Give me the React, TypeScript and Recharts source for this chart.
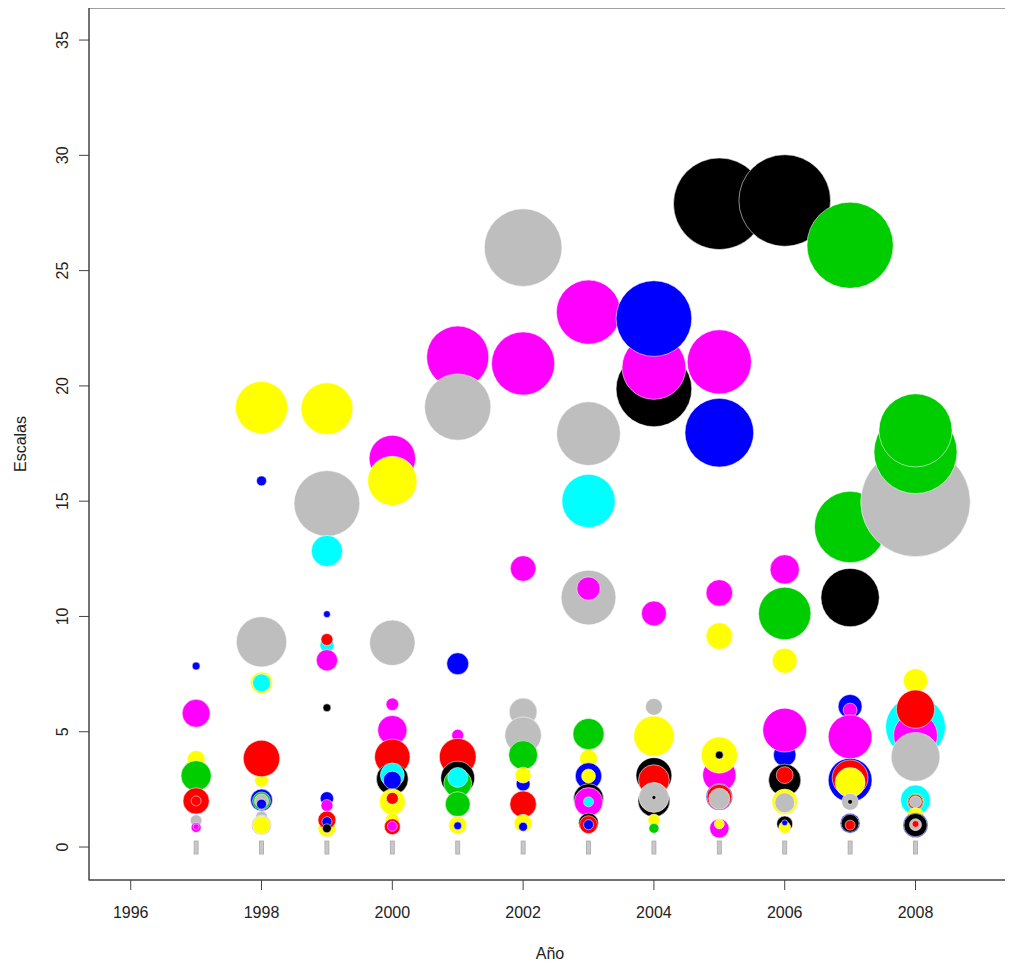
import React from 'react';
import { ReferenceArea, Scatter, ScatterChart, XAxis, YAxis, ZAxis } from 'recharts';

// paleta por defecto de R: negro, rojo, verde, azul, cian, magenta, amarillo, gris
const colores = ['#000000', '#FF0000', '#00CD00', '#0000FF', '#00FFFF', '#FF00FF', '#FFFF00', '#BEBEBE'];

const anios = [1997, 1998, 1999, 2000, 2001, 2002, 2003, 2004, 2005, 2006, 2007, 2008];
const ticksAnio = [1996, 1998, 2000, 2002, 2004, 2006, 2008];
const ticksEscala = [0, 5, 10, 15, 20, 25, 30, 35];

// [escala, n, grupo] en el orden en que se dibujan
const e1997 = [
  [5.8, 19.6, 5], [7.85, 1.6, 3], [3.8, 8.1, 6], [3.09, 23.1, 2], [2.0, 17.4, 1],
  [2.0, 2.5, 1], [1.15, 3.4, 7], [0.85, 2.5, 5], [0.88, 0.9, 5],
];
const e1998 = [
  [19.06, 68.6, 6], [15.88, 2.5, 3], [8.9, 64, 7], [7.12, 12.1, 6], [7.12, 8.1, 4],
  [2.9, 4.9, 6], [3.84, 33.6, 1], [2.04, 12.1, 3], [2.0, 8.1, 2], [2.0, 4.9, 7],
  [1.86, 2.5, 3], [1.3, 3.6, 7], [0.95, 10, 7], [0.95, 8.1, 6],
];
const e1999 = [
  [19.01, 67.6, 6], [14.9, 108.9, 7], [12.84, 24.6, 4], [10.1, 1.2, 3], [8.75, 4.9, 4],
  [9.0, 3.6, 1], [8.1, 11.4, 5], [6.04, 1.6, 0], [2.11, 4.5, 3], [1.8, 3.6, 5],
  [0.82, 8.1, 6], [1.17, 8.1, 1], [1.1, 2.5, 3], [0.81, 2.0, 0],
];
const e2000 = [
  [16.85, 54.3, 5], [15.88, 61, 6], [8.86, 52, 7], [6.19, 4, 5], [5.07, 21.6, 5],
  [3.91, 31.7, 1], [2.95, 25.6, 0], [3.12, 14.4, 4], [2.9, 8.1, 3], [1.96, 16.9, 6],
  [2.11, 3.6, 1], [1.17, 4.9, 6], [0.88, 6.4, 1], [0.9, 2.5, 5],
];
const e2001 = [
  [21.25, 97.3, 5], [19.08, 110.9, 7], [7.95, 12.1, 3], [4.85, 3.6, 5], [3.91, 34.2, 1],
  [3.25, 10, 6], [2.99, 28.9, 0], [2.76, 19.6, 2], [3.02, 10, 4], [1.86, 15.6, 2],
  [0.95, 8.1, 6], [0.92, 1.6, 3],
];
const e2002 = [
  [26.0, 152, 7], [20.97, 100.5, 5], [12.08, 16.4, 5], [5.86, 19.6, 7], [4.85, 33.5, 7],
  [3.99, 21, 2], [2.73, 4.9, 3], [3.12, 6.4, 6], [1.86, 17.7, 1], [1.03, 8.1, 6],
  [0.88, 2, 3],
];
const e2003 = [
  [23.2, 103.7, 5], [17.93, 102.4, 7], [15.01, 71.3, 4], [10.82, 75.6, 7], [11.21, 13.7, 5],
  [4.9, 24.6, 2], [3.84, 8.1, 6], [3.08, 17.7, 3], [3.08, 4.9, 6], [2.1, 22.5, 0],
  [1.96, 20.4, 5], [1.96, 2.5, 4], [1.04, 10, 0], [0.97, 8.1, 1], [0.97, 2.5, 3],
];
const e2004 = [
  [19.87, 144.4, 0], [20.8, 102.4, 5], [22.92, 144.4, 3], [10.13, 15.6, 5], [6.08, 7.2, 7],
  [4.81, 41.2, 6], [3.1, 32.4, 0], [2.9, 24, 1], [2.0, 25.6, 0], [2.15, 22.5, 7],
  [2.15, 0.4, 0], [1.17, 3.6, 6], [0.81, 2.5, 2],
];
const e2005 = [
  [27.9, 211.6, 0], [21.04, 103.7, 5], [17.97, 119, 3], [11.02, 17.7, 5], [9.15, 17.7, 6],
  [3.12, 27.9, 5], [3.99, 33.1, 6], [3.99, 1.6, 0], [2.18, 17.7, 3], [2.18, 15.6, 1],
  [2.1, 11, 7], [0.81, 9.4, 5], [1.0, 2.5, 6],
];
const e2006 = [
  [28.04, 211.6, 0], [12.04, 21.6, 5], [10.13, 69.2, 2], [8.08, 15.6, 6], [3.99, 12.8, 3],
  [5.07, 48.4, 5], [2.9, 26.2, 0], [3.12, 7.2, 1], [1.96, 16.4, 6], [1.92, 10, 7],
  [1.0, 6.4, 0], [0.85, 3.6, 6], [1.05, 0.9, 3],
];
const e2007 = [
  [26.1, 187.5, 2], [13.88, 128.2, 2], [10.82, 85.8, 0], [6.1, 14.4, 3], [5.94, 4.9, 5],
  [4.78, 48.4, 5], [2.9, 48.4, 3], [3.0, 32.4, 1], [2.8, 22.5, 6], [1.96, 7.2, 7],
  [1.96, 0.6, 0], [1.03, 10, 3], [1.03, 8.1, 0], [0.95, 2.5, 1],
];
const e2008 = [
  [14.97, 302.5, 7], [17.13, 173.9, 2], [18.07, 134.7, 2], [5.21, 90, 4], [4.85, 48.4, 5],
  [7.21, 14.9, 6], [5.98, 36.9, 1], [3.91, 60, 7], [2.04, 22.5, 4], [1.96, 7.2, 2],
  [1.96, 5.6, 1], [1.96, 3.6, 7], [1.31, 8.1, 6], [0.95, 15.6, 3], [0.95, 13.7, 0],
  [0.97, 3.6, 7], [1.0, 1.2, 1],
];

const escalasPorAnio = [e1997, e1998, e1999, e2000, e2001, e2002, e2003, e2004, e2005, e2006, e2007, e2008];

const puntos = anios.flatMap((anio, i) =>
  escalasPorAnio[i].map(([escala, n, grupo]) => ({ anio, escala, n, grupo }))
);
const ceros = anios.map((anio) => ({ anio, escala: 0 }));

const fuente = '"Liberation Sans", Arial, Helvetica, sans-serif';
const dominioX: [number, number] = [1995.362, 2009.46];
const dominioY: [number, number] = [-1.43, 36.39];

const Burbuja = (props: any) => {
  const { cx, cy, size, payload } = props;
  const r = Math.sqrt(Math.max(size, 0) / Math.PI);
  return (
    <circle
      cx={cx}
      cy={cy}
      r={r}
      fill={colores[payload.grupo]}
      stroke="#ffffff"
      strokeOpacity={0.55}
      strokeWidth={1}
    />
  );
};

const MarcaCero = (props: any) => {
  const { cx, cy } = props;
  return (
    <rect x={cx - 2} y={cy - 6} width={4} height={13} fill="#c8c8c8" stroke="#a8a8a8" strokeWidth={0.8} />
  );
};

const TickY = (props: any) => {
  const { x, y, payload } = props;
  return (
    <text
      x={x}
      y={y}
      transform={`rotate(-90 ${x} ${y})`}
      textAnchor="middle"
      fill="#222"
      fontSize={16}
      fontFamily={fuente}
    >
      {payload.value}
    </text>
  );
};

export default function App() {
  return (
    <div style={{ fontFamily: fuente, background: '#fff' }}>
      <ScatterChart width={1005} height={958} margin={{ top: 0, right: 2, bottom: 2, left: 0 }}>
        <ReferenceArea
          x1={dominioX[0]}
          x2={dominioX[1]}
          y1={dominioY[0]}
          y2={dominioY[1]}
          fill="none"
          stroke="#808080"
          strokeWidth={1.5}
          ifOverflow="visible"
        />
        <XAxis
          type="number"
          dataKey="anio"
          domain={dominioX}
          allowDataOverflow
          ticks={ticksAnio}
          height={84}
          tickSize={10}
          tickMargin={17}
          stroke="#444"
          tick={{ fill: '#222', fontSize: 16, fontFamily: fuente }}
          label={{ value: 'Año', position: 'insideBottom', offset: 5, fill: '#222', fontSize: 16, fontFamily: fuente }}
        />
        <YAxis
          type="number"
          dataKey="escala"
          domain={dominioY}
          allowDataOverflow
          ticks={ticksEscala}
          width={81}
          tickSize={10}
          tickMargin={11}
          stroke="#444"
          tick={<TickY />}
          label={{
            value: 'Escalas',
            angle: -90,
            position: 'insideLeft',
            offset: 12,
            fill: '#222',
            fontSize: 16,
            fontFamily: fuente,
            style: { textAnchor: 'middle' },
          }}
        />
        <ZAxis type="number" dataKey="n" domain={[0, 300]} range={[0, 3000 * Math.PI]} />
        <Scatter data={ceros} shape={<MarcaCero />} isAnimationActive={false} />
        <Scatter data={puntos} shape={<Burbuja />} isAnimationActive={false} />
      </ScatterChart>
    </div>
  );
}
